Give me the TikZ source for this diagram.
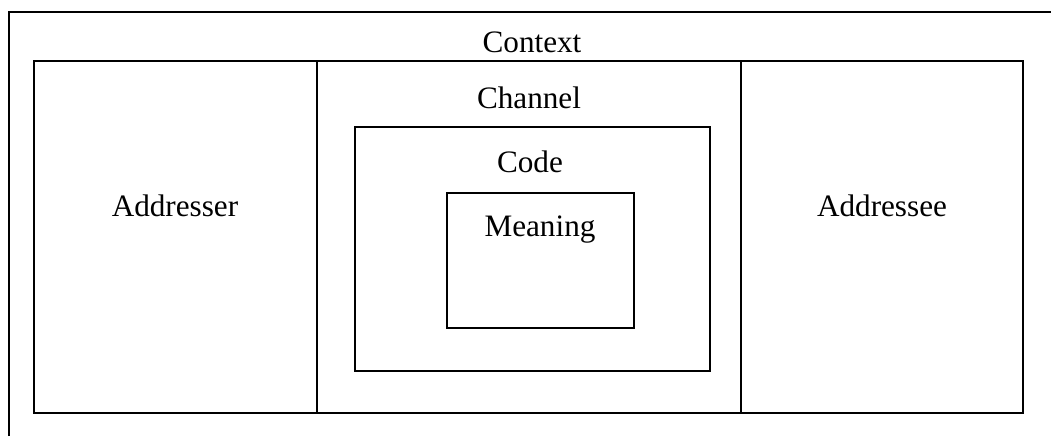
\documentclass[tikz,border=0pt]{standalone}
\usepackage{fontspec}
\setmainfont{Liberation Serif}
\usepackage{tikz}

\begin{document}
\begin{tikzpicture}[x=0.5pt,y=-0.5pt,
            box/.style={draw=black,line width=1pt},
            every node/.style={font=\fontsize{15.6}{18}\selectfont,anchor=base,inner sep=0pt}]
            \useasboundingbox (0,0) rectangle (1051,436);
            % frame, cut off at right and bottom
            \draw[box] (9,436) -- (9,12) -- (1051,12);
            % main boxes
            \draw[box] (34,61) rectangle (1023,413);
            \draw[box] (317,61) -- (317,413);
            \draw[box] (741,61) -- (741,413);
            \draw[box] (355,127) rectangle (710,371);
            \draw[box] (447,193) rectangle (634,328);
            % labels
            \node (context)   at (532,52)  {Context};
            \node (channel)   at (529,108) {Channel};
            \node (code)      at (530,172) {Code};
            \node (meaning)   at (540,236) {Meaning};
            \node (addresser) at (175,216) {Addresser};
            \node (addressee) at (882,216) {Addressee};
        \end{tikzpicture}
\end{document}
